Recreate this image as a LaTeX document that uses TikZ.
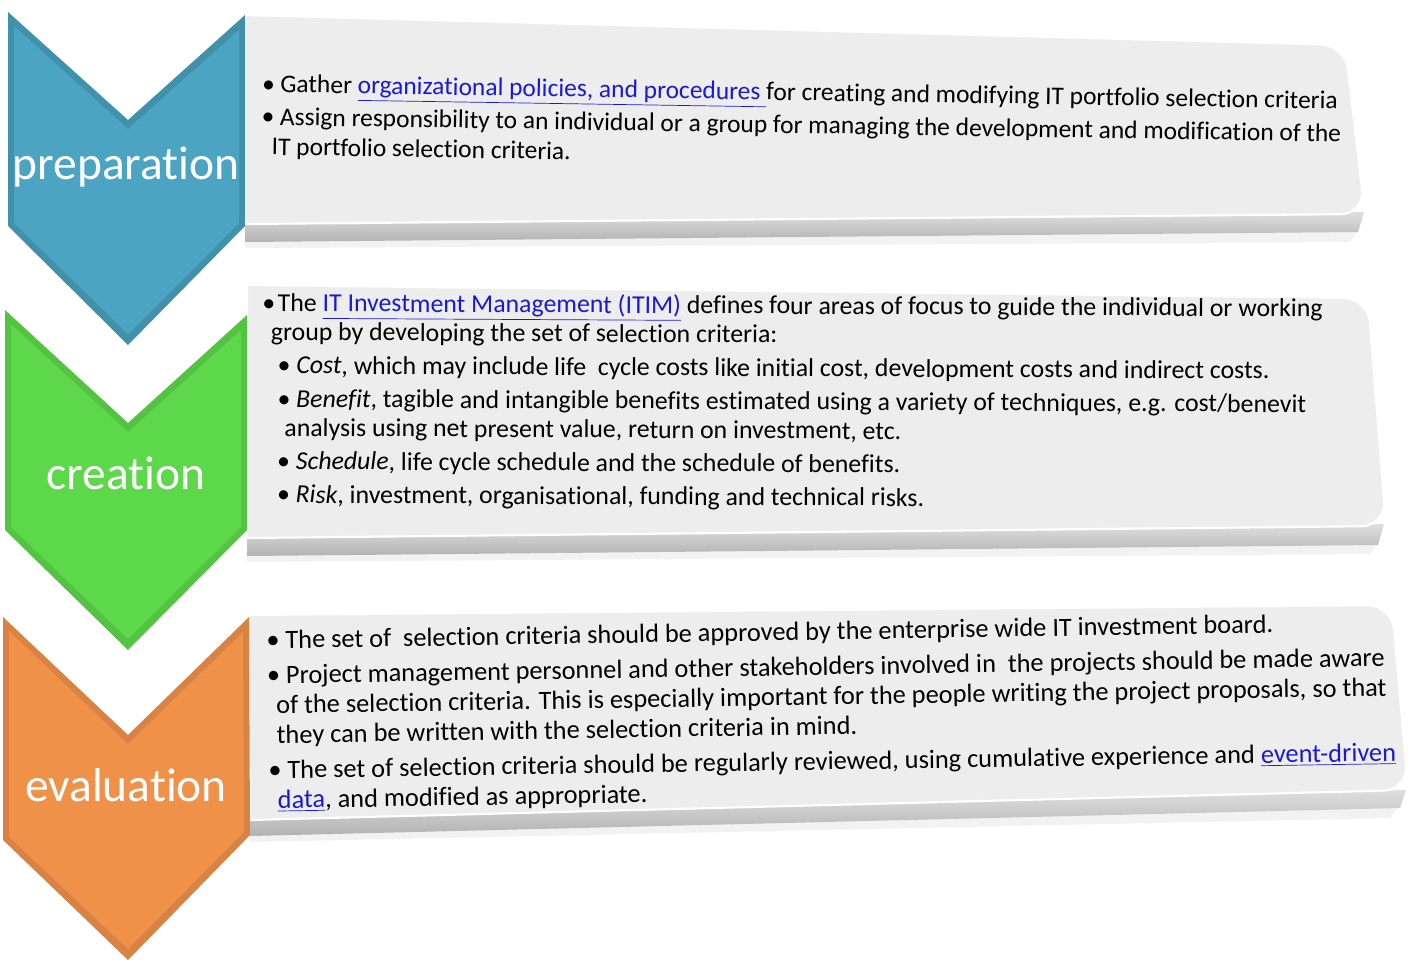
\documentclass[tikz,border=0pt]{standalone}
\usepackage{fontspec}
\setmainfont{Carlito}[Ligatures={NoCommon,NoContextual},Contextuals=NoAlternate]
\definecolor{prepblue}{HTML}{4BA5C2}
\definecolor{creagreen}{HTML}{5DD84A}
\definecolor{evalorange}{HTML}{F0914A}
\definecolor{linkblue}{HTML}{1A1AD6}
\definecolor{panelgrey}{HTML}{EDEDED}
\newcommand{\lnk}[1]{\textcolor{linkblue}{\underline{#1}}}
\newcommand{\bul}{\makebox[0.72em][l]{•}}
\tikzset{
  panel/.style={fill=panelgrey, draw=white, line width=1.2pt},
  panelband/.style={top color=gray!25, bottom color=gray!60},
  panelshadow/.style={fill=gray!10},
  steplabel/.style={text=white, font=\fontsize{27pt}{31pt}\selectfont},
  paneltext/.style={anchor=north west, align=left, inner sep=0pt}
}
\begin{document}
\begin{tikzpicture}[x=0.02cm,y=-0.02cm]
\useasboundingbox (0,0) rectangle (1416,963);
% panels
\fill[panelshadow] (245,238) -- (1360,228) -- (1350,242) -- (245,248) -- cycle;
\shade[panelband] (245,222) -- (1364,212) -- (1358,232) -- (245,242) -- cycle;
\draw[panel] (245,15) [rounded corners=14pt] -- (1345,45) -- (1365,214) [sharp corners] -- (245,224) -- cycle;

\fill[panelshadow] (247,552) -- (1380,540) -- (1370,554) -- (247,562) -- cycle;
\shade[panelband] (247,536) -- (1384,524) -- (1378,545) -- (247,556) -- cycle;
\draw[panel] (247,285) [rounded corners=14pt] -- (1368,298) -- (1386,526) [sharp corners] -- (247,538) -- cycle;

\fill[panelshadow] (250,832) -- (1400,805) -- (1390,818) -- (250,842) -- cycle;
\shade[panelband] (250,818) -- (1406,790) -- (1400,808) -- (250,836) -- cycle;
\draw[panel] (248,615) [rounded corners=14pt] -- (1392,605) -- (1408,790) [sharp corners] -- (250,820) -- cycle;

% chevrons
\fill[prepblue!88!black] (8,12) -- (128,120) -- (245,15) -- (245,226) -- (128,345) -- (8,226) -- cycle;
\fill[prepblue] (14,26) -- (128,129) -- (239,30) -- (239,223) -- (128,334) -- (14,223) -- cycle;
\fill[creagreen!90!black] (5,310) -- (128,423) -- (247,315) -- (247,530) -- (128,650) -- (5,530) -- cycle;
\fill[creagreen] (11,324) -- (128,432) -- (241,330) -- (241,527) -- (128,639) -- (11,527) -- cycle;
\fill[evalorange!90!black] (3,617) -- (128,735) -- (249,617) -- (250,835) -- (128,960) -- (3,840) -- cycle;
\fill[evalorange] (9,631) -- (128,744) -- (243,632) -- (244,832) -- (128,949) -- (9,837) -- cycle;

\node[steplabel] (prep) at (126,167) {preparation};
\node[steplabel] (crea) at (126,473) {creation};
\node[steplabel] (eval) at (126,785) {evaluation};

% texts
\node[paneltext, rotate=-0.9, font=\fontsize{14.5pt}{17pt}\selectfont] (preptext) at (262,74) {%
\bul Gather \lnk{organizational policies, and procedures }for creating and modifying IT portfolio selection criteria\\[1.7pt]
\bul Assign responsibility to an individual or a group for managing the development and modification of the\\
\hspace{6pt}IT portfolio selection criteria.};

\node[paneltext, rotate=-0.3, font=\fontsize{14.7pt}{16.5pt}\selectfont] (creatext) at (262,292) {%
\makebox[0.6em][l]{•}The \lnk{IT Investment Management (ITIM)} defines four areas of focus to guide the individual or working\\
\hspace{5pt}group by developing the set of selection criteria:\\[2.5pt]
\hspace{9pt}\bul\textit{Cost}, which may include life\ \ cycle costs like initial cost, development costs and indirect costs.\\[2.5pt]
\hspace{9pt}\bul\textit{Benefit}, tagible and intangible benefits estimated using a variety of techniques, e.g. cost/benevit\\
\hspace{13pt}analysis using net present value, return on investment, etc.\\[2.5pt]
\hspace{9pt}\bul\textit{Schedule}, life cycle schedule and the schedule of benefits.\\[2.5pt]
\hspace{9pt}\bul\textit{Risk}, investment, organisational, funding and technical risks.};

\node[paneltext, rotate=0.9, font=\fontsize{15pt}{17pt}\selectfont] (evaltext) at (266,630) {%
\bul The set of\ \ selection criteria should be approved by the enterprise wide IT investment board.\\[3pt]
\bul Project management personnel and other stakeholders involved in\ \ the projects should be made aware\\
\hspace{5pt}of the selection criteria. This is especially important for the people writing the project proposals, so that\\
\hspace{5pt}they can be written with the selection criteria in mind.\\[3pt]
\bul The set of selection criteria should be regularly reviewed, using cumulative experience and \lnk{event-driven}\\
\hspace{5pt}\lnk{data}, and modified as appropriate.};
\end{tikzpicture}
\end{document}
